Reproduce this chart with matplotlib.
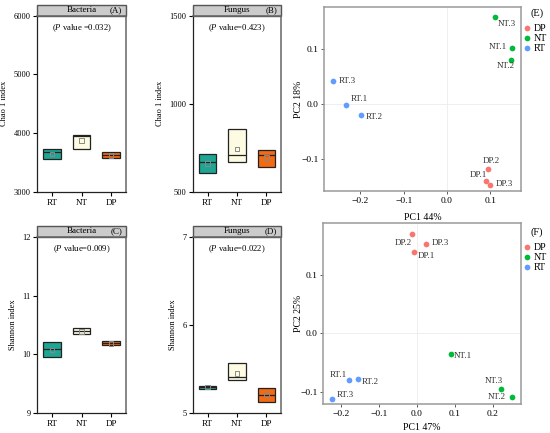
import numpy as np
import matplotlib
matplotlib.use('Agg')
import matplotlib.pyplot as plt
from matplotlib.patches import Rectangle

plt.rcParams['font.family'] = ['Liberation Serif', 'DejaVu Serif']
plt.rcParams['mathtext.fontset'] = 'custom'
plt.rcParams['mathtext.rm'] = 'Liberation Serif'
plt.rcParams['mathtext.it'] = 'Liberation Serif:italic'

# ---- datos: cajas (q1, q3, mediana, media) ----
grupos = ['RT', 'NT', 'DP']
colores_caja = ['#1fa594', '#fdfbe1', '#f26a12']

chao_bac_q1 = [3555, 3730, 3572]
chao_bac_q3 = [3725, 3968, 3685]
chao_bac_med = [3679, 3957, 3623]
chao_bac_mean = [3645, 3877, 3617]

chao_fun_q1 = [608, 672, 643]
chao_fun_q3 = [713, 857, 741]
chao_fun_med = [670, 708, 709]
chao_fun_mean = [662, 745, 696]

sha_bac_q1 = [9.951, 10.347, 10.155]
sha_bac_q3 = [10.206, 10.443, 10.228]
sha_bac_med = [10.087, 10.393, 10.189]
sha_bac_mean = [10.075, 10.393, 10.189]

sha_fun_q1 = [5.279, 5.377, 5.132]
sha_fun_q3 = [5.313, 5.574, 5.291]
sha_fun_med = [5.298, 5.408, 5.204]
sha_fun_mean = [5.298, 5.453, 5.208]

# ---- datos: PCA ----
muestras = ['DP.1', 'DP.2', 'DP.3', 'NT.1', 'NT.2', 'NT.3', 'RT.1', 'RT.2', 'RT.3']
pca_e_x = [0.091, 0.095, 0.099, 0.150, 0.149, 0.112, -0.233, -0.198, -0.263]
pca_e_y = [-0.139, -0.118, -0.148, 0.101, 0.080, 0.158, -0.002, -0.020, 0.042]
pca_f_x = [-0.008, -0.013, 0.0245, 0.091, 0.252, 0.223, -0.178, -0.156, -0.222]
pca_f_y = [0.139, 0.171, 0.153, -0.036, -0.109, -0.095, -0.080, -0.079, -0.113]
col_pca = {'DP': '#F8766D', 'NT': '#00BA38', 'RT': '#619CFF'}

# desplazamientos de etiquetas (pixeles)
off_e = [(-8, 6), (3, 8), (15, 1), (-14, 1), (-6, -6), (11, -7), (13, 6), (13, -2), (14, 0)]
off_f = [(13, -4), (-8, -9), (14, 1), (12, -2), (-16, 0), (-7, 8), (-11, 5), (13, -3), (13, 4)]

fig = plt.figure(figsize=(5.5, 4.33), dpi=100)
W, H = 550.0, 433.0


def ejes(x0, x1, y0, y1):
    return fig.add_axes([x0 / W, 1 - y1 / H, (x1 - x0) / W, (y1 - y0) / H])


def caja(ax, q1, q3, med, mean, ylim, yticks, titulo, letra, ptxt, ylab):
    pos = np.arange(1, 4)
    q1 = np.array(q1); q3 = np.array(q3)
    ax.bar(pos, q3 - q1, bottom=q1, width=0.6, color=colores_caja,
           edgecolor='#222222', linewidth=0.9, zorder=2)
    ax.hlines(med, pos - 0.3, pos + 0.3, color='#222222', linewidth=0.9, zorder=3)
    ax.scatter(pos, mean, marker='s', s=11, facecolor='none',
               edgecolor='#8a8a8a', linewidth=0.7, zorder=4)
    ax.set_xlim(0.5, 3.5)
    ax.set_ylim(*ylim)
    ax.set_yticks(yticks)
    ax.set_xticks(pos)
    ax.set_xticklabels(grupos, fontsize=6.5)
    ax.tick_params(axis='y', labelsize=6, length=3, width=0.8, pad=1.5)
    ax.tick_params(axis='x', length=3, width=0.8, pad=2)
    for s in ['left', 'bottom']:
        ax.spines[s].set_color('#222222')
        ax.spines[s].set_linewidth(0.9)
    for s in ['right', 'top']:
        ax.spines[s].set_color('#666666')
        ax.spines[s].set_linewidth(1.1)
    ax.set_ylabel(ylab, fontsize=6, labelpad=4)
    # franja del titulo
    ax.add_patch(Rectangle((0, 1), 1, 0.0625, transform=ax.transAxes, clip_on=False,
                           facecolor='#cbcbcb', edgecolor='#555555', linewidth=1.0))
    ax.text(0.5, 1.031, titulo, transform=ax.transAxes, ha='center', va='center', fontsize=6.5)
    ax.text(0.96, 1.031, letra, transform=ax.transAxes, ha='right', va='center', fontsize=6.5)
    ax.text(0.5, 0.93, ptxt, transform=ax.transAxes, ha='center', va='center', fontsize=6.2)


ax = ejes(37, 126, 15.7, 192)
caja(ax, chao_bac_q1, chao_bac_q3, chao_bac_med, chao_bac_mean, (3000, 6000),
     [3000, 4000, 5000, 6000], 'Bacteria', '(A)', r'($\mathit{P}$ value =0.032)', 'Chao 1 index')
ax = ejes(193, 281, 15.7, 192)
caja(ax, chao_fun_q1, chao_fun_q3, chao_fun_med, chao_fun_mean, (500, 1500),
     [500, 1000, 1500], 'Fungus', '(B)', r'($\mathit{P}$ value=0.423)', 'Chao 1 index')
ax = ejes(37, 126, 236.7, 413.3)
caja(ax, sha_bac_q1, sha_bac_q3, sha_bac_med, sha_bac_mean, (9, 12),
     [9, 10, 11, 12], 'Bacteria', '(C)', r'($\mathit{P}$ value=0.009)', 'Shannon index')
ax = ejes(193, 281, 236.7, 413.3)
caja(ax, sha_fun_q1, sha_fun_q3, sha_fun_med, sha_fun_mean, (5, 7),
     [5, 6, 7], 'Fungus', '(D)', r'($\mathit{P}$ value=0.022)', 'Shannon index')


def pca(ax, xs, ys, offs, xlim, ylim, xticks, xlab, ylab, letra, y_leg, ylab_x, xlab_y):
    ax.axhline(0, color='#ececec', linewidth=0.6, zorder=0)
    ax.axvline(0, color='#ececec', linewidth=0.6, zorder=0)
    for g in ['DP', 'NT', 'RT']:
        idx = [i for i, m in enumerate(muestras) if m.startswith(g)]
        ax.scatter([xs[i] for i in idx], [ys[i] for i in idx], s=17,
                   color=col_pca[g], label=g, zorder=3, linewidths=0)
    for i, m in enumerate(muestras):
        ax.annotate(m, (xs[i], ys[i]), xytext=offs[i], textcoords='offset pixels',
                    ha='center', va='center', fontsize=6.5, color='#333333')
    ax.set_xlim(*xlim)
    ax.set_ylim(*ylim)
    ax.set_xticks(xticks)
    ax.set_yticks([-0.1, 0.0, 0.1])
    ax.set_yticklabels(['\u22120.1', '0.0', '0.1'])
    ax.set_xticklabels([('\u2212%.1f' % -t) if t < 0 else '%.1f' % t for t in xticks])
    ax.tick_params(labelsize=6.8, length=2.5, width=0.6, color='#444444', pad=1.5)
    for s in ax.spines.values():
        s.set_color('#9a9a9a')
        s.set_linewidth(1.1)
    ax.set_xlabel(xlab, fontsize=7)
    ax.set_ylabel(ylab, fontsize=7)
    ax.yaxis.set_label_coords(ylab_x, 0.5)
    ax.xaxis.set_label_coords(0.5, xlab_y)
    ax.legend(loc='upper left', bbox_to_anchor=(523 / W, 1 - y_leg / H),
              bbox_transform=fig.transFigure, frameon=False, fontsize=7.2,
              handlelength=0.7, handletextpad=0.35, labelspacing=0.1,
              borderpad=0, borderaxespad=0, markerscale=1.0)
    fig.text(537 / W, 1 - (y_leg - 11) / H, letra, ha='center', va='center', fontsize=7.5)


ax = ejes(324, 521, 7, 191)
pca(ax, pca_e_x, pca_e_y, off_e, (-0.284, 0.171), (-0.158, 0.176),
    [-0.2, -0.1, 0.0, 0.1], 'PC1 44%', 'PC2 18%', '(E)', 24, -0.107, -0.12)
ax = ejes(323, 521, 223, 404)
pca(ax, pca_f_x, pca_f_y, off_f, (-0.247, 0.275), (-0.121, 0.189),
    [-0.2, -0.1, 0.0, 0.1, 0.2], 'PC1 47%', 'PC2 25%', '(F)', 243, -0.101, -0.105)

plt.savefig('out.png', dpi=100)
